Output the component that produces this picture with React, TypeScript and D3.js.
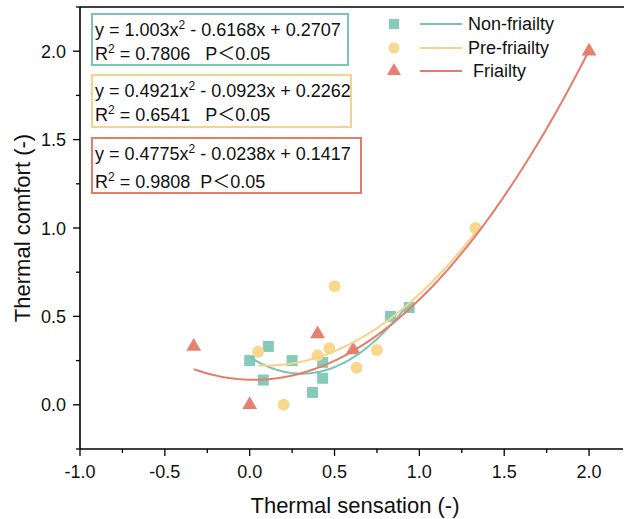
import React from "react";
import * as d3 from "d3";

const nonX = [0.0, 0.11, 0.08, 0.25, 0.37, 0.43, 0.43, 0.83, 0.94];
const nonY = [0.25, 0.33, 0.14, 0.25, 0.07, 0.24, 0.15, 0.5, 0.55];
const preX = [0.05, 0.2, 0.4, 0.47, 0.5, 0.63, 0.75, 1.33];
const preY = [0.3, 0.0, 0.28, 0.32, 0.67, 0.21, 0.31, 1.0];
const friX = [-0.33, 0.0, 0.4, 0.61, 2.0];
const friY = [0.33, 0.0, 0.4, 0.31, 2.0];

const nonCoef = [1.003, -0.6168, 0.2707];
const preCoef = [0.4921, -0.0923, 0.2262];
const friCoef = [0.4775, -0.0238, 0.1417];
const nonRange = [0.0, 0.94];
const preRange = [0.05, 1.33];
const friRange = [-0.33, 2.0];

const xTicks = [-1.0, -0.5, 0.0, 0.5, 1.0, 1.5, 2.0];
const yTicks = [0.0, 0.5, 1.0, 1.5, 2.0];
const legendLabels = ["Non-friailty", "Pre-friailty", " Friailty"];

const C_NON = "#86CBBA";
const C_PRE = "#F8D88E";
const C_FRI = "#E8806F";
const L_NON = "#7CC4B2";
const L_PRE = "#F5D48A";
const L_FRI = "#E57B6B";

const FONT = "Liberation Sans, Arial, sans-serif";
const pre: React.CSSProperties = { whiteSpace: "pre" };

export default function App() {
  const W = 624, H = 519;
  const x = d3.scaleLinear().domain([-1, 2.2]).range([80, 623]);
  const y = d3.scaleLinear().domain([-0.25, 2.25]).range([449, 7]);

  const curve = (coef: number[], r: number[]) => {
    const pts: [number, number][] = d3.range(0, 101).map((i) => {
      const xv = r[0] + ((r[1] - r[0]) * i) / 100;
      return [xv, coef[0] * xv * xv + coef[1] * xv + coef[2]];
    });
    return d3.line<[number, number]>().x((d) => x(d[0])).y((d) => y(d[1]))(pts) || "";
  };

  const minorX = d3.range(-1, 2.2001, 0.25);
  const minorY = d3.range(-0.25, 2.2501, 0.25);
  const tri = d3.symbol().type(d3.symbolTriangle).size(95)() || "";
  const triL = d3.symbol().type(d3.symbolTriangle).size(85)() || "";

  const Eq = ({ yy, a, b, c }: { yy: number; a: string; b: string; c: string }) => (
    <text x={95} y={yy} fontSize={18} fill="#111" style={pre}>
      y = {a}x<tspan dy={-7} fontSize={12}>2</tspan><tspan dy={7}>{` - ${b}x + ${c}`}</tspan>
    </text>
  );
  const R2 = ({ yy, r, gap }: { yy: number; r: string; gap: string }) => (
    <text x={95} y={yy} fontSize={18} fill="#111" style={pre}>
      R<tspan dy={-7} fontSize={12}>2</tspan><tspan dy={7} style={pre}>{` = ${r}${gap}P`}</tspan>
      <tspan fontFamily="Noto Sans CJK SC">＜</tspan>0.05
    </text>
  );

  return (
    <svg width={W} height={H} style={{ position: "absolute", left: 0, top: 0, background: "#fff" }} fontFamily={FONT}>
      {/* axes */}
      <line x1={x(-1)} x2={x(-1)} y1={y(2.25)} y2={y(-0.25)} stroke="#000" strokeWidth={1.6} />
      <line x1={x(-1)} x2={623} y1={y(-0.25)} y2={y(-0.25)} stroke="#000" strokeWidth={1.6} />
      <line x1={x(-1)} x2={624} y1={y(2.25)} y2={y(2.25)} stroke="#000" strokeWidth={1.6} />
      {minorX.map((v, i) => (
        <line key={"mx" + i} x1={x(v)} x2={x(v)} y1={y(-0.25)} y2={y(-0.25) + (i % 2 === 0 ? 7 : 4)} stroke="#000" strokeWidth={1.3} />
      ))}
      {minorY.map((v, i) => (
        <line key={"my" + i} x1={x(-1)} x2={x(-1) - (i % 2 === 1 ? 7 : 4)} y1={y(v)} y2={y(v)} stroke="#000" strokeWidth={1.3} />
      ))}
      {xTicks.map((v) => (
        <text key={"xt" + v} x={x(v)} y={478} textAnchor="middle" fontSize={18} fill="#111">{v.toFixed(1)}</text>
      ))}
      {yTicks.map((v) => (
        <text key={"yt" + v} x={66} y={y(v) + 6.5} textAnchor="end" fontSize={18} fill="#111">{v.toFixed(1)}</text>
      ))}
      <text x={355} y={513} textAnchor="middle" fontSize={22} fill="#111">Thermal sensation (-)</text>
      <text transform={`translate(30,228) rotate(-90)`} textAnchor="middle" fontSize={22} fill="#111">Thermal comfort (-)</text>

      {/* markers */}
      {nonX.map((v, i) => (
        <rect key={"n" + i} x={x(v) - 5.5} y={y(nonY[i]) - 5.5} width={11} height={11} fill={C_NON} />
      ))}
      {preX.map((v, i) => (
        <circle key={"p" + i} cx={x(v)} cy={y(preY[i])} r={6} fill={C_PRE} />
      ))}
      {friX.map((v, i) => (
        <path key={"f" + i} d={tri} transform={`translate(${x(v)},${y(friY[i])})`} fill={C_FRI} />
      ))}

      {/* fit curves */}
      <path d={curve(nonCoef, nonRange)} fill="none" stroke={L_NON} strokeWidth={2} />
      <path d={curve(preCoef, preRange)} fill="none" stroke={L_PRE} strokeWidth={2} />
      <path d={curve(friCoef, friRange)} fill="none" stroke={L_FRI} strokeWidth={2} />

      {/* equation boxes */}
      <rect x={92} y={14} width={256} height={51} fill="#fff" stroke={L_NON} strokeWidth={2} />
      <Eq yy={36} a="1.003" b="0.6168" c="0.2707" />
      <R2 yy={60} r="0.7806" gap="   " />

      <rect x={92} y={75} width={259} height={52} fill="#fff" stroke={L_PRE} strokeWidth={2} />
      <Eq yy={97} a="0.4921" b="0.0923" c="0.2262" />
      <R2 yy={121} r="0.6541" gap="   " />

      <rect x={92} y={138} width={269} height={55} fill="#fff" stroke={L_FRI} strokeWidth={2} />
      <Eq yy={160} a="0.4775" b="0.0238" c="0.1417" />
      <R2 yy={188} r="0.9808" gap="  " />

      {/* legend */}
      <rect x={389} y={19} width={10} height={10} fill={C_NON} />
      <line x1={420} x2={462} y1={24} y2={24} stroke={L_NON} strokeWidth={2} />
      <text x={468} y={30} fontSize={18} fill="#111">{legendLabels[0]}</text>
      <circle cx={394} cy={48} r={5.5} fill={C_PRE} />
      <line x1={420} x2={462} y1={48} y2={48} stroke={L_PRE} strokeWidth={2} />
      <text x={468} y={54} fontSize={18} fill="#111">{legendLabels[1]}</text>
      <path d={triL} transform={`translate(394,71)`} fill={C_FRI} />
      <line x1={420} x2={462} y1={71} y2={71} stroke={L_FRI} strokeWidth={2} />
      <text x={468} y={77} fontSize={18} fill="#111" style={pre}>{legendLabels[2]}</text>
    </svg>
  );
}
